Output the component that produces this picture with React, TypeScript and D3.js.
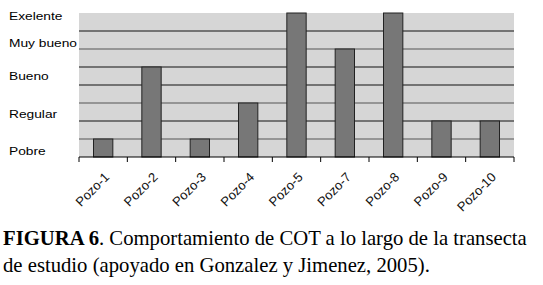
import React from 'react';
import * as d3 from 'd3';

const categories = ['Pozo-1', 'Pozo-2', 'Pozo-3', 'Pozo-4', 'Pozo-5', 'Pozo-7', 'Pozo-8', 'Pozo-9', 'Pozo-10'];
const values = [1, 5, 1, 3, 8, 6, 8, 2, 2];
const levelLabels = ['Pobre', 'Regular', 'Bueno', 'Muy bueno', 'Exelente'];
const levelPositions = [0.3, 2.4, 4.5, 6.3, 7.8];
const gridValues = [1, 2, 3, 4, 5, 6, 7];
const darkGrid = [2, 4, 5, 7];

const W = 543;
const H = 285;
const plot = { left: 79, right: 514, top: 13, bottom: 157 };

export default function App() {
  // scales
  const x = d3.scaleBand<string>()
    .domain(categories)
    .range([plot.left, plot.right])
    .paddingInner(0.6)
    .paddingOuter(0.3);

  const y = d3.scaleLinear()
    .domain([0, 8])
    .range([plot.bottom, plot.top]);

  const step = x.step();
  const tickXs = d3.range(categories.length + 1).map(i => plot.left + i * step);

  return (
    <svg width={W} height={H} style={{ position: 'absolute', left: 0, top: 0 }}
      fontFamily="'Liberation Sans', Arial, sans-serif">
      <rect width={W} height={H} fill="#fff" />
      <rect x={plot.left} y={plot.top} width={plot.right - plot.left} height={plot.bottom - plot.top} fill="#d6d6d6" />

      {/* grid lines */}
      {gridValues.map(v => (
        <line key={v} x1={plot.left} x2={plot.right} y1={y(v)} y2={y(v)}
          stroke={darkGrid.includes(v) ? '#111' : '#555'} strokeWidth={1.2} />
      ))}

      {/* bars */}
      {values.map((v, i) => (
        <rect key={categories[i]} x={x(categories[i])} y={y(v)} width={x.bandwidth()}
          height={y(0) - y(v)} fill="#777" stroke="#222" strokeWidth={1} />
      ))}

      {/* x axis */}
      <line x1={plot.left} x2={plot.right} y1={plot.bottom} y2={plot.bottom} stroke="#000" strokeWidth={1.2} />
      {tickXs.map((t, i) => (
        <line key={i} x1={t} x2={t} y1={plot.bottom} y2={plot.bottom + 5} stroke="#000" />
      ))}
      {categories.map(c => {
        const cx = (x(c) as number) + x.bandwidth() / 2 + 7;
        return (
          <text key={c} transform={`translate(${cx},${plot.bottom + 21}) rotate(-45)`}
            textAnchor="end" fontSize={13} fill="#111">{c}</text>
        );
      })}

      {/* level labels */}
      {levelLabels.map((l, i) => (
        <text key={l} transform={`translate(9,${y(levelPositions[i])}) scale(1.25,1)`}
          dy="0.35em" fontSize={11} fill="#000">{l}</text>
      ))}

      {/* caption */}
      <text x={3} y={245} fontFamily="'Liberation Serif', 'Times New Roman', serif" fontSize={20.7} fill="#000">
        <tspan fontWeight="bold">FIGURA 6</tspan>. Comportamiento de COT a lo largo de la transecta
      </text>
      <text x={3} y={272} fontFamily="'Liberation Serif', 'Times New Roman', serif" fontSize={20.7} fill="#000">
        de estudio (apoyado en Gonzalez y Jimenez, 2005).
      </text>
    </svg>
  );
}
